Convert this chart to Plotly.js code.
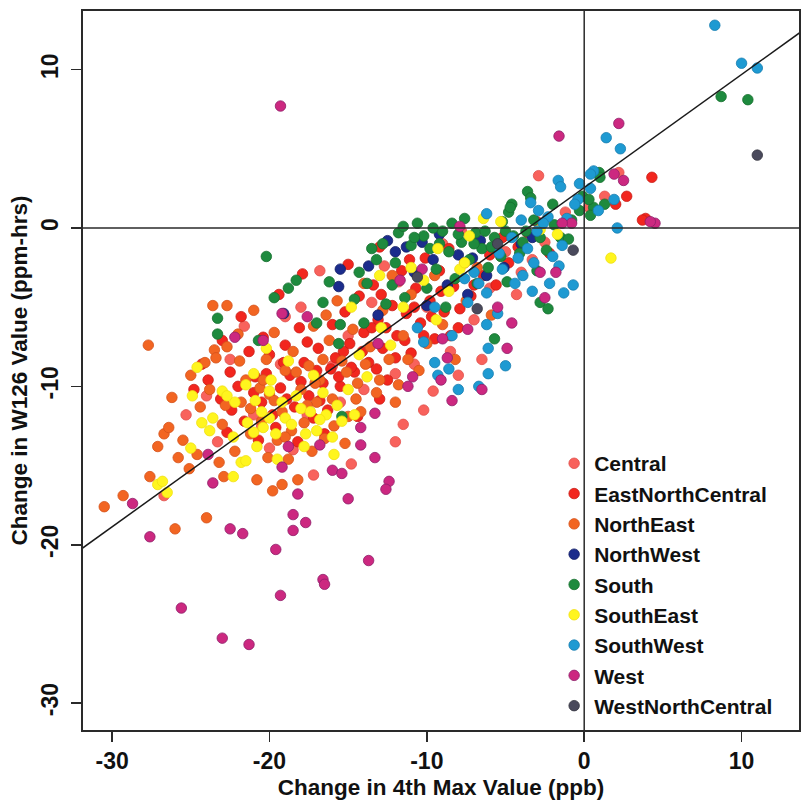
<!DOCTYPE html>
<html><head><meta charset="utf-8">
<script src="https://cdn.plot.ly/plotly-3.0.1.min.js"></script>
<style>html,body{margin:0;padding:0;background:#fff}#chart{width:801px;height:804px}</style>
</head><body><div id="chart"></div>
<script>
const regionNames = ["Central","EastNorthCentral","NorthEast","NorthWest","South","SouthEast","SouthWest","West","WestNorthCentral"];
const regionColors = ["#F8625C","#F2261E","#F26522","#1B2C8C","#1E8A3E","#FFF51E","#1E9AD2","#CC2880","#4A4A5C"];
const regionEdges  = ["#E04E4A","#C81E18","#D4521A","#141F66","#17702F","#F0E010","#187EB0","#8E1E6A","#35353F"];

const centralX = [1.3,2.2,-2.9,-1.2,0.3,-16.8,-20.5,-18.5,-15.5,-12.0,-10.0,-8.5,-7.0,-6.0,-5.0,-4.0,-22.5,-21.0,-19.0,-17.6,-16.0,-14.0,-13.5,-11.8,-10.8,-9.6,-8.0,-6.5,-24.0,-25.3,-20.0,-18.0,-15.0,-12.7,-9.0,-7.8,-3.3,-2.5,-17.2,-14.8,-11.5,-10.2,-23.3,-26.7,-19.3,-12.0,-4.3,-21.6];
const centralY = [2.0,3.5,3.3,1.0,1.3,-2.7,-12.5,-14.0,-11.0,-9.2,-5.0,-7.8,-5.8,-3.8,-1.5,-2.8,-8.3,-11.8,-5.6,-11.8,-8.7,-10.2,-4.7,-3.4,-8.6,-10.3,-9.3,-8.3,-10.6,-11.8,-13.9,-5.0,-6.8,-2.4,-1.0,-0.2,-2.0,-0.9,-15.6,-14.9,-12.4,-11.5,-13.5,-16.9,-8.6,-13.5,-4.2,-6.2];

const encX = [4.3,2.7,3.9,3.7,2.0,-24.8,-23.9,-23.1,-22.5,-22.0,-21.6,-21.3,-20.9,-20.5,-20.4,-20.0,-19.6,-19.3,-19.0,-18.7,-18.4,-18.1,-17.8,-17.5,-17.2,-16.9,-16.6,-16.3,-16.0,-15.8,-15.5,-15.2,-14.9,-14.6,-14.3,-14.0,-13.7,-13.4,-13.1,-12.8,-12.5,-12.2,-11.9,-11.6,-11.3,-11.0,-10.7,-10.4,-10.1,-9.8,-9.5,-9.2,-8.9,-8.6,-8.3,-8.0,-7.6,-7.2,-6.8,-6.4,-6.0,-5.6,-5.2,-4.8,-4.2,-3.6,-3.0,-21.8,-17.9,-15.0,-13.0,-19.4,-18.2,-16.5,-14.4,-13.0,-23.0,-24.3,-22.7,-2.2,
  -21.0,-20.2,-19.8,-19.1,-18.9,-18.0,-17.6,-17.0,-16.8,-16.1,-15.6,-15.3,-14.8,-14.1,-13.5,-13.2,-12.6,-12.0,-11.4,-10.8,-10.2,-9.7,-9.1,-8.5,-7.9,-7.0,-12.9,-11.1,-22.4,-20.7];
const encY = [3.2,2.0,0.6,0.5,1.5,-10.2,-9.6,-10.8,-9.1,-10.0,-12.2,-7.8,-9.4,-11.0,-6.9,-8.0,-12.6,-10.1,-7.4,-9.3,-11.3,-6.3,-8.5,-10.6,-12.0,-7.6,-9.8,-11.5,-6.1,-8.2,-10.0,-5.3,-7.3,-9.1,-4.3,-6.6,-8.5,-3.6,-5.8,-7.6,-9.6,-4.9,-6.8,-2.7,-5.4,-7.9,-3.8,-6.0,-1.9,-4.6,-7.0,-2.7,-5.3,-1.3,-3.7,-6.3,-2.2,-4.3,-0.9,-3.0,-1.7,-3.6,-0.6,-2.2,-1.2,-0.3,0.4,-5.6,-2.9,-2.3,-1.2,-4.2,-13.5,-13.0,-11.9,-10.8,-7.1,-8.6,-12.9,-1.6,
  -10.4,-9.2,-11.8,-8.5,-10.8,-9.7,-7.2,-9.0,-10.9,-8.9,-9.4,-7.8,-8.8,-7.8,-6.3,-8.9,-6.3,-8.2,-7.1,-5.0,-6.8,-5.6,-4.0,-6.8,-5.1,-3.6,-4.2,-2.0,-11.5,-13.4];

const northEastX = [-30.5,-29.3,-27.6,-27.7,-27.1,-26.7,-26.4,-26.0,-25.5,-25.1,-25.0,-24.6,-24.0,-24.1,-23.6,-23.5,-23.4,-23.0,-22.9,-22.7,-22.7,-22.2,-21.8,-21.5,-21.0,-20.8,-20.5,-20.2,-20.0,-19.7,-19.5,-19.2,-19.0,-18.8,-18.5,-18.2,-18.0,-17.8,-17.5,-17.2,-17.0,-16.8,-16.5,-16.2,-16.0,-15.7,-15.4,-15.0,-14.7,-14.4,-14.0,-13.6,-13.2,-12.8,-12.4,-12.0,-11.5,-11.0,-10.5,-10.0,-9.5,-9.0,-8.2,-7.5,-6.8,-5.9,-22.0,-21.2,-19.8,-18.6,-17.3,-16.4,-15.2,-14.2,-12.2,-20.6,-24.4,-26.2,-19.2,-20.1,
  -23.8,-22.8,-21.9,-21.2,-20.4,-19.7,-19.0,-18.3,-17.6,-17.1,-16.6,-15.9,-15.1,-14.5,-13.9,-13.0,-11.8,-11.2,-25.8,-23.2];
const northEastY = [-17.6,-16.9,-15.7,-7.4,-13.8,-13.0,-12.6,-19.0,-13.4,-15.2,-9.3,-14.3,-18.3,-8.5,-4.9,-7.7,-8.2,-12.4,-15.7,-4.9,-7.5,-14.1,-11.0,-9.6,-5.2,-15.9,-12.2,-8.3,-10.5,-6.6,-13.4,-11.6,-9.0,-14.6,-7.8,-15.9,-10.2,-12.3,-8.7,-6.2,-11.0,-9.6,-13.3,-7.1,-10.8,-4.6,-8.4,-11.9,-6.4,-9.8,-3.5,-7.5,-10.4,-5.2,-8.3,-11.0,-6.8,-4.2,-9.0,-7.3,-3.0,-6.1,-8.3,-4.6,-2.5,-5.5,-6.7,-13.0,-16.6,-12.8,-14.1,-5.5,-13.6,-11.6,-3.0,-10.1,-11.3,-10.7,-16.2,-14.5,
  -10.2,-11.2,-8.4,-11.4,-9.6,-10.9,-13.2,-9.1,-11.2,-9.8,-8.3,-12.5,-9.1,-10.8,-8.6,-9.6,-9.9,-8.3,-14.5,-14.8];

const northWestX = [-15.5,-15.6,-12.0,-13.1,-3.3,-5.1,-8.0,-7.1,-9.6,-10.8,-12.5,-10.0,-8.7,-6.2,-11.3,-9.2,-13.7,-7.4,-19.1,-4.0,-6.6,-10.3];
const northWestY = [-2.6,-3.7,-1.5,-5.5,-0.6,-2.5,-1.7,-1.9,-2.0,-2.8,-0.8,-4.9,-3.6,-3.0,-1.2,-0.4,-2.4,-4.2,-5.4,-1.0,-0.8,-0.9];

const southX = [8.7,10.4,0.95,0.6,0.4,-0.1,1.3,-4.6,-4.8,-4.7,-3.6,-3.4,-7.6,-2.8,-2.3,-5.7,-20.2,-18.3,-18.8,-19.7,-16.6,-15.5,-15.6,-14.6,-11.8,-11.0,-12.2,-23.3,-23.3,-20.7,-15.4,-10.6,-10.2,-9.8,-9.4,-9.0,-8.6,-8.2,-7.8,-7.3,-6.9,-6.5,-6.1,-5.7,-5.3,-4.9,-4.5,-4.1,-3.7,-3.2,-2.8,-2.4,-1.9,-1.5,-0.8,-13.2,-12.6,-14.0,-13.5,-16.2,-17.0,-10.0,-8.8,-11.4,-12.0,-14.3,-6.8,-3.0,-2.0,-0.3,-1.0,0.3,1.0,-8.4,-5.2,
  -11.5,-10.8,-9.6,-9.2,-8.0,-7.0,-6.3,-5.9,-5.0,-3.9,-13.8,-12.8];
const southY = [8.3,8.1,3.5,1.3,0.8,2.0,1.5,1.5,1.0,1.3,2.3,1.9,0.6,-4.7,-5.1,-7.0,-1.8,-3.3,-3.8,-4.4,-4.7,-6.1,-7.3,-4.5,-0.3,-1.1,-3.6,-5.7,-6.7,-7.1,-11.9,0.3,-0.5,-1.3,-2.6,-0.2,-1.5,-3.2,-0.9,-2.0,-0.3,-1.3,-2.5,-0.6,-1.8,-3.4,-0.5,-1.6,-0.2,0.5,-0.6,-1.4,0.2,-0.6,0.5,-2.0,-4.8,-6.0,-1.3,-3.4,-6.0,-3.8,-5.0,-4.4,-2.2,-2.8,-3.5,-2.7,1.5,1.1,-0.7,1.8,3.2,0.3,0.4,
  0.1,-0.6,0.0,-1.0,-0.4,-1.0,-0.2,-1.2,-0.2,-0.9,-3.5,-1.0];

const southEastX = [-27.1,-26.5,-26.8,-24.3,-25.0,-21.4,-21.8,-20.8,-17.8,-20.4,-22.3,-21.5,-22.3,-24.6,-21.0,-21.5,-20.9,-19.9,-20.5,-19.6,-19.0,-18.3,-17.7,-17.0,-16.4,-16.0,-15.4,-15.0,-14.3,-13.8,-12.9,-12.3,-11.5,-11.0,-10.2,-9.4,-8.6,-7.9,-7.3,-6.4,-5.3,-2.8,-9.3,-7.6,-1.7,-23.0,-22.2,-18.8,-17.2,-14.8,-13.0,1.7,-18.0,-16.6,-19.5,-23.6,-15.9,-20.2,
  -22.7,-21.0,-20.0,-19.2,-18.6,-17.4,-16.8,-15.7,-14.6,-20.0,-23.8,-24.9];
const southEastY = [-16.2,-16.7,-16.0,-12.3,-13.9,-12.3,-14.8,-13.8,-13.8,-12.6,-13.2,-14.7,-15.7,-8.8,-9.2,-9.9,-10.9,-9.6,-11.6,-13.0,-12.0,-10.6,-13.0,-12.8,-11.8,-13.2,-12.2,-10.2,-8.0,-9.4,-6.3,-7.4,-5.0,-2.5,-3.3,-5.8,-4.0,-2.6,-0.5,0.6,0.4,-0.1,-1.3,-2.2,-0.4,-10.3,-11.0,-8.4,-9.3,-5.0,-3.0,-1.9,-11.4,-10.4,-14.6,-12.0,-14.3,-7.6,
  -10.6,-12.9,-10.3,-11.0,-12.4,-11.6,-12.1,-11.2,-11.8,-12.0,-12.8,-10.6];

const southWestX = [8.3,10.0,11.0,1.4,2.3,0.6,0.4,-0.3,1.9,0.9,2.1,-1.65,-1.5,0.4,-2.9,-3.4,-2.3,-1.4,-2.0,-0.7,-1.3,-2.2,-3.3,-3.9,-4.2,-6.2,-0.4,-5.5,-9.5,-7.4,-6.2,-6.1,-5.0,-6.1,-6.7,-8.0,-9.3,-8.6,-9.5,-0.6,-2.6,-1.1,-4.6,-5.2,-7.0,-8.4,-10.2,-10.6,-6.2,-6.7,-3.6,-4.4,
  -3.0,-4.0,-5.4,-7.6,-3.2,-1.6];
const southWestY = [12.8,10.4,10.1,5.7,5.0,3.6,2.5,2.8,1.8,1.1,0.0,3.0,2.6,3.4,1.1,1.6,0.7,-1.1,-1.8,-3.6,-4.1,-3.5,-4.0,-3.0,-1.9,-4.1,1.8,-5.4,-5.0,-4.7,-6.1,-7.6,-8.7,-9.2,-10.0,-10.2,-9.3,-8.9,-8.5,1.5,0.3,0.6,-0.6,-2.6,-2.8,-6.8,-7.2,-6.3,0.9,-3.5,-1.3,-3.5,
  -0.2,0.5,-1.6,-3.2,-2.2,-2.4];

const westX = [-19.3,-1.6,2.2,4.5,2.5,4.2,-25.6,-23.0,-21.3,-19.3,-16.6,-16.5,-13.7,-27.6,-28.7,-23.6,-22.5,-21.7,-19.6,-19.2,-18.2,-18.5,-18.5,-17.7,-16.0,-15.4,-15.0,-12.4,-12.6,-13.3,-14.2,-14.2,-13.3,-16.8,-23.9,-11.2,-22.2,-7.4,-4.6,-4.9,-8.4,-6.5,-8.7,-5.5,-2.8,-1.8,-2.5,-0.8,-1.4,-7.9,-19.2,-17.6,-11.7,-13.1,-10.9,-20.4,-9.0,-18.8,-10.3,-9.1,1.9];
const westY = [7.7,5.8,6.6,0.3,3.0,0.4,-24.0,-25.9,-26.3,-23.2,-22.2,-22.5,-21.0,-19.5,-17.4,-16.1,-19.0,-19.3,-20.3,-15.1,-16.8,-18.1,-19.1,-18.6,-15.3,-15.5,-17.1,-16.0,-16.5,-14.5,-13.7,-12.6,-11.7,-13.7,-14.3,-10.0,-6.9,-6.4,-6.0,-7.6,-10.9,-10.2,-8.2,-5.0,-2.8,-2.8,-4.4,0.3,0.3,0.1,-5.4,-5.6,-3.3,-7.3,-9.4,-7.1,-7.0,-13.8,-2.6,-9.6,3.4];

const wncX = [11.0,-0.7,-6.8,-10.6,-5.5];
const wncY = [4.6,-1.4,-5.1,-3.1,-1.0];

const fitIntercept = 2.55, fitSlope = 0.714;
const xTicks = [-30,-20,-10,0,10];
const yTicks = [-30,-20,-10,0,10];
const xTitle = "Change in 4th Max Value (ppb)";
const yTitle = "Change in W126 Value (ppm-hrs)";

const seriesX = [centralX,encX,northEastX,northWestX,southX,southEastX,southWestX,westX,wncX];
const seriesY = [centralY,encY,northEastY,northWestY,southY,southEastY,southWestY,westY,wncY];

const FONT = "Liberation Sans, Arial, Helvetica, sans-serif";
const traces = regionNames.map((name,i)=>({
  type:'scatter', mode:'markers', name:name,
  x:seriesX[i], y:seriesY[i],
  marker:{size:10.5, color:regionColors[i], line:{width:0.8,color:regionEdges[i]}},
  cliponaxis:true, hoverinfo:'x+y+name'
}));
const xr = [-31.85, 13.65];
traces.push({type:'scatter', mode:'lines', x:[xr[0]-1, xr[1]+1],
  y:[fitIntercept+fitSlope*(xr[0]-1), fitIntercept+fitSlope*(xr[1]+1)],
  line:{color:'#1a1a1a', width:1.5}, showlegend:false, hoverinfo:'skip'});

const axisCommon = {
  showline:true, mirror:true, linecolor:'#2a2a2a', linewidth:1.6,
  ticks:'outside', ticklen:10, tickwidth:1.6, tickcolor:'#2a2a2a',
  showgrid:false, zeroline:false,
  tickfont:{family:FONT, size:23, color:'#111', weight:'bold'},
  automargin:false
};
const layout = {
  width:801, height:804,
  margin:{l:83, r:2, t:11, b:74},
  paper_bgcolor:'#fff', plot_bgcolor:'#fff',
  font:{family:FONT, color:'#111'},
  xaxis:Object.assign({}, axisCommon, {range:xr, tickvals:xTicks, ticktext:xTicks.map(String),
    title:{text:xTitle, font:{family:FONT, size:22.5, color:'#111', weight:'bold'}, standoff:6}}),
  yaxis:Object.assign({}, axisCommon, {range:[-31.7,13.7], tickvals:yTicks, ticktext:yTicks.map(String), tickangle:-90,
    ticklabelstandoff:4,
    title:{text:yTitle, font:{family:FONT, size:22.5, color:'#111', weight:'bold'}, standoff:3}}),
  showlegend:true,
  legend:{x:0.658, xanchor:'left', y:0.399, yanchor:'top', bgcolor:'rgba(0,0,0,0)', borderwidth:0,
    font:{family:FONT, size:21, color:'#111', weight:'bold'}, itemwidth:30, tracegroupgap:0},
  shapes:[
    {type:'line', xref:'paper', x0:0, x1:1, yref:'y', y0:0, y1:0, line:{color:'#2a2a2a', width:1.5}, layer:'above'},
    {type:'line', yref:'paper', y0:0, y1:1, xref:'x', x0:0, x1:0, line:{color:'#2a2a2a', width:1.5}, layer:'above'}
  ]
};
Plotly.newPlot('chart', traces, layout, {staticPlot:true, displayModeBar:false});
</script></body></html>
